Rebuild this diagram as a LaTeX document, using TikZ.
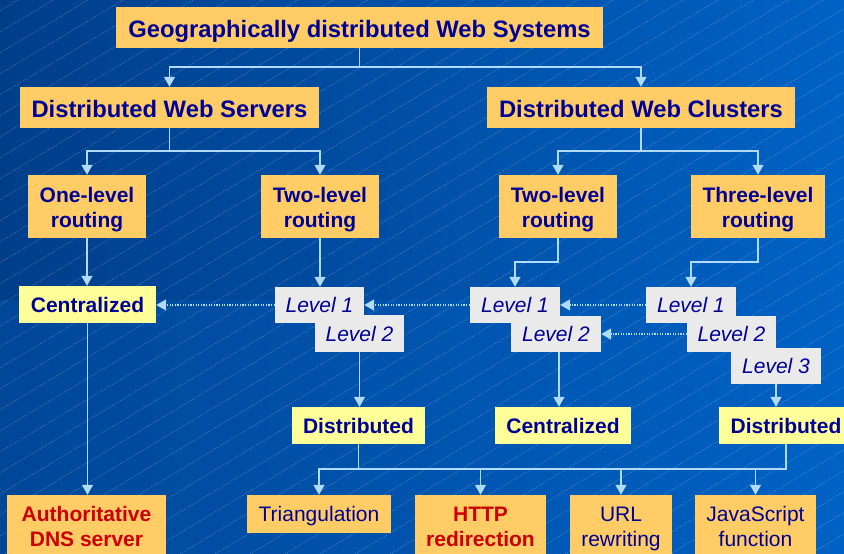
\documentclass[tikz,border=0pt]{standalone}
\usepackage{fontspec}
\setmainfont{Liberation Sans}
\usetikzlibrary{arrows.meta,calc}
\definecolor{bgdark}{RGB}{0,62,138}
\definecolor{bglight}{RGB}{0,98,196}
\definecolor{boxorange}{RGB}{255,204,102}
\definecolor{boxyellow}{RGB}{255,255,153}
\definecolor{boxgrey}{RGB}{234,234,234}
\definecolor{txtblue}{RGB}{0,0,150}
\definecolor{txtred}{RGB}{204,0,0}
\definecolor{wire}{RGB}{175,218,250}
% two centred lines with fixed outer extent, so every box places its text alike
\newcommand\twolines[2]{\rule{0pt}{22.6pt}#1\\#2\rule[-6pt]{0pt}{6pt}}
\begin{document}
\begin{tikzpicture}[x=1pt,y=-1pt,
  box/.style={inner sep=0pt, align=center, text=txtblue,
    font=\bfseries\fontsize{21}{25}\selectfont},
  oneline/.style={text height=15.5pt, text depth=0pt},
  headbox/.style={box, fill=boxorange, minimum height=41pt,
    text height=19pt, text depth=0pt,
    font=\bfseries\fontsize{23.8}{28}\selectfont},
  routebox/.style={box, fill=boxorange, minimum height=63pt},
  yellowbox/.style={box, oneline, fill=boxyellow, minimum height=37pt},
  levelbox/.style={box, oneline, fill=boxgrey, minimum width=90pt, minimum height=36pt,
    font=\itshape\fontsize{21}{25}\selectfont},
  leafbox/.style={box, fill=boxorange, font=\fontsize{21}{25}\selectfont},
  redleaf/.style={box, fill=boxorange, text=txtred},
  wireline/.style={draw=wire, line width=1.4pt},
  arr/.style={wireline, -{Triangle[width=11pt,length=10pt,fill=wire]}},
  dotarr/.style={arr, dash pattern=on 1.2pt off 1.4pt},
  hatch/.style={white, opacity=0.28, line width=0.6pt, dash pattern=on 1.2pt off 1.2pt}
]
\useasboundingbox (0,0) rectangle (844,554);
\clip (0,0) rectangle (844,554);

% background: blue gradient with fine diagonal hatching
\shade[left color=bgdark, right color=bglight] (0,0) rectangle (844,554);
\fill[bglight, opacity=0.25] (0,300) rectangle (844,554);
\foreach \i in {-940,-905,...,860}
  \draw[hatch] (\i,554) -- ++(923,-554);

% top levels
\node[headbox, minimum width=487pt] (title) at (359.5,27.5) {Geographically distributed Web Systems};
\node[headbox, minimum width=299pt] (dws) at (169.5,107.5) {Distributed Web Servers};
\node[headbox, minimum width=308pt] (dwc) at (641,107.5) {Distributed Web Clusters};

% routing schemes
\node[routebox, minimum width=118pt] (one) at (87,206.5) {\twolines{One-level}{routing}};
\node[routebox, minimum width=118pt] (two1) at (320,206.5) {\twolines{Two-level}{routing}};
\node[routebox, minimum width=118pt] (two2) at (558,206.5) {\twolines{Two-level}{routing}};
\node[routebox, minimum width=134pt] (three) at (758,206.5) {\twolines{Three-level}{routing}};

% levels
\node[yellowbox, minimum width=137pt] (cen1) at (87.5,304.5) {Centralized};
\node[levelbox, minimum width=89pt] (l1a) at (319.5,305) {Level 1};
\node[levelbox, minimum width=89pt, minimum height=37pt] (l2a) at (359.5,333.5) {Level 2};
\node[levelbox] (l1b) at (515,305) {Level 1};
\node[levelbox] (l2b) at (556,334) {Level 2};
\node[levelbox] (l1c) at (691,305) {Level 1};
\node[levelbox, minimum width=89pt] (l2c) at (731.5,334) {Level 2};
\node[levelbox] (l3c) at (776,366) {Level 3};

% dispatching
\node[yellowbox, minimum width=133pt] (dis1) at (358.5,425.5) {Distributed};
\node[yellowbox, minimum width=136pt] (cen2) at (563,425.5) {Centralized};
\node[yellowbox, minimum width=134pt] (dis2) at (786,425.5) {Distributed};

% mechanisms
\node[redleaf, minimum width=159pt, minimum height=62pt] (auth) at (86.5,526) {\twolines{Authoritative}{DNS server}};
\node[leafbox, oneline, minimum width=144pt, minimum height=38pt] (tri) at (319,514) {Triangulation};
\node[redleaf, minimum width=131pt, minimum height=62pt] (http) at (480.5,526) {\twolines{HTTP}{redirection}};
\node[leafbox, minimum width=102pt, minimum height=62pt] (url) at (621,526) {\twolines{URL}{rewriting}};
\node[leafbox, minimum width=121pt, minimum height=62pt] (js) at (755.5,526) {\twolines{JavaScript}{function}};

% branching points
\coordinate (j1) at (359.5,67);
\coordinate (j2) at (169.5,151);
\coordinate (j3) at (641,151);
\coordinate (j4) at (558,262);
\coordinate (j5) at (758,262);
\coordinate (j6) at (358.5,469);

% tree connectors
\draw[wireline] (title.south) -- (j1);
\draw[arr] (j1) -| (dws.north);
\draw[arr] (j1) -| (dwc.north);
\draw[wireline] (dws.south) -- (j2);
\draw[arr] (j2) -| (one.north);
\draw[arr] (j2) -| (two1.north);
\draw[wireline] (dwc.south) -- (j3);
\draw[arr] (j3) -| (two2.north);
\draw[arr] (j3) -| (three.north);

\draw[arr] (one.south) -- (one.south |- cen1.north);
\draw[arr] (two1.south) -- (two1.south |- l1a.north);
\draw[arr] (two2.south) -- (j4) -| (l1b.north);
\draw[arr] (three.south) -- (j5) -| (l1c.north);

% level correspondences
\draw[dotarr] (l1a.west) -- (l1a.west -| cen1.east);
\draw[dotarr] (l1b.west) -- (l1b.west -| l1a.east);
\draw[dotarr] (l1c.west) -- (l1c.west -| l1b.east);
\draw[dotarr] (l2c.west) -- (l2c.west -| l2b.east);

% down to dispatching
\draw[arr] (l2a.south) -- (l2a.south |- dis1.north);
\draw[arr] ([xshift=3pt]l2b.south) -- ([xshift=3pt]l2b.south |- cen2.north);
\draw[arr] (l3c.south) -- (l3c.south |- dis2.north);
\draw[arr] (cen1.south) -- (cen1.south |- auth.north);

% down to mechanisms
\draw[wireline] (dis1.south) -- (j6);
\draw[wireline] (dis2.south) |- (j6);
\draw[arr] (j6) -| (tri.north);
\draw[arr] (j6) -| (http.north);
\draw[arr] (j6) -| (url.north);
\draw[arr] (j6) -| (js.north);
\end{tikzpicture}
\end{document}
